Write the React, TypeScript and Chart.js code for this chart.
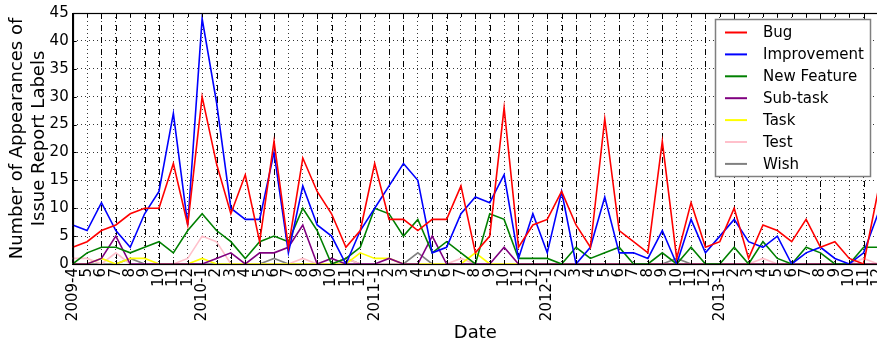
import { useEffect, useRef } from "react";
import { Chart, registerables } from "chart.js";

Chart.register(...registerables);

const tickLabels = [
  "2009-4", "5", "6", "7", "8", "9", "10", "11", "12",
  "2010-1", "2", "3", "4", "5", "6", "7", "8", "9", "10", "11", "12",
  "2011-1", "2", "3", "4", "5", "6", "7", "8", "9", "10", "11", "12",
  "2012-1", "2", "3", "4", "5", "6", "7", "8", "9", "10", "11", "12",
  "2013-1", "2", "3", "4", "5", "6", "7", "8", "9", "10", "11", "12",
];

const bug = [3, 4, 6, 7, 9, 10, 10, 18, 7, 30, 18, 9, 16, 4, 22, 3, 19, 13, 9, 3, 6, 18, 8, 8, 6, 8, 8, 14, 2, 5, 28, 3, 7, 8, 13, 7, 3, 26, 6, 4, 2, 22, 1, 11, 3, 4, 10, 1, 7, 6, 4, 8, 3, 4, 1, 0, 13];
const improvement = [7, 6, 11, 6, 3, 9, 13, 27, 7, 44, 29, 10, 8, 8, 20, 2, 14, 7, 5, 0, 6, 10, 14, 18, 15, 2, 3, 9, 12, 11, 16, 1, 9, 2, 13, 0, 3, 12, 2, 2, 1, 6, 0, 8, 2, 5, 8, 4, 3, 5, 0, 2, 3, 1, 0, 2, 9];
const newFeature = [0, 2, 3, 3, 2, 3, 4, 2, 6, 9, 6, 4, 1, 4, 5, 4, 10, 6, 0, 1, 3, 10, 9, 5, 8, 2, 4, 2, 0, 9, 8, 1, 1, 1, 0, 3, 1, 2, 3, 0, 0, 2, 0, 3, 0, 0, 3, 0, 4, 1, 0, 3, 2, 0, 0, 3, 3];
const subTask = [0, 0, 1, 5, 0, 0, 0, 0, 0, 0, 1, 2, 0, 2, 2, 3, 7, 0, 1, 0, 0, 0, 1, 0, 0, 5, 0, 0, 0, 0, 3, 0, 0, 0, 0, 0, 0, 0, 0, 0, 0, 0, 0, 0, 0, 0, 0, 0, 0, 0, 0, 0, 0, 0, 0, 0, 0];
const task = [0, 0, 1, 0, 1, 1, 0, 0, 0, 1, 0, 0, 0, 0, 0, 0, 0, 0, 0, 0, 2, 1, 1, 0, 0, 0, 0, 0, 2, 0, 0, 0, 0, 0, 0, 0, 0, 0, 0, 0, 0, 0, 0, 0, 0, 0, 0, 0, 0, 0, 0, 0, 0, 0, 0, 0, 0];
const test = [1, 1, 0, 2, 0, 0, 0, 0, 1, 5, 4, 0, 0, 0, 0, 0, 1, 0, 0, 1, 0, 0, 0, 0, 0, 0, 0, 1, 0, 0, 0, 0, 0, 0, 0, 0, 0, 0, 0, 0, 0, 0, 0, 0, 0, 0, 0, 0, 1, 0, 0, 0, 0, 0, 0, 1, 0];
const wish = [0, 0, 0, 0, 1, 0, 0, 0, 0, 0, 0, 0, 0, 0, 1, 0, 0, 0, 0, 1, 0, 0, 0, 0, 2, 0, 0, 0, 0, 0, 0, 0, 0, 0, 0, 0, 0, 0, 0, 0, 0, 0, 1, 0, 0, 0, 0, 0, 0, 0, 0, 0, 0, 0, 0, 0, 0];

// month indices with dashed vertical marker lines
const dashedMonths = [2, 3, 5, 6, 10, 11, 13, 14, 17, 18, 20, 22, 23, 25, 26, 28, 29, 31, 33, 34, 35, 38, 41, 44, 46, 52, 55];

const seriesNames = ["Bug", "Improvement", "New Feature", "Sub-task", "Task", "Test", "Wish"];
const seriesValues = [bug, improvement, newFeature, subTask, task, test, wish];
const seriesColors = ["#ff0000", "#0000ff", "#008000", "#800080", "#ffff00", "#ffc0cb", "#808080"];

const CANVAS_W = 900;
const CANVAS_H = 347;
const FONT = "'DejaVu Sans', sans-serif";

export default function App() {
  const ref = useRef<HTMLCanvasElement | null>(null);

  useEffect(() => {
    const canvas = ref.current;
    if (!canvas) return;

    const framePlugin = {
      id: "framePlugin",
      beforeDatasetsDraw(chart: any) {
        const { ctx, chartArea } = chart;
        const xs = chart.scales.x;
        ctx.save();
        ctx.strokeStyle = "#000";
        ctx.lineWidth = 1;
        ctx.setLineDash([6, 6]);
        dashedMonths.forEach((m) => {
          const x = Math.round(xs.getPixelForValue(m)) + 0.5;
          ctx.beginPath();
          ctx.moveTo(x, chartArea.top);
          ctx.lineTo(x, chartArea.bottom);
          ctx.stroke();
        });
        ctx.restore();
      },
      afterDatasetsDraw(chart: any) {
        const { ctx, chartArea } = chart;
        const xs = chart.scales.x;
        const ys = chart.scales.y;
        ctx.save();
        ctx.strokeStyle = "#000";
        ctx.lineWidth = 1;
        ctx.setLineDash([]);
        ctx.beginPath();
        for (let i = 0; i < tickLabels.length; i++) {
          const x = Math.round(xs.getPixelForValue(i)) + 0.5;
          ctx.moveTo(x, chartArea.bottom);
          ctx.lineTo(x, chartArea.bottom - 4);
          ctx.moveTo(x, chartArea.top);
          ctx.lineTo(x, chartArea.top + 4);
        }
        for (let v = 0; v <= 45; v += 5) {
          const y = Math.round(ys.getPixelForValue(v)) + 0.5;
          ctx.moveTo(chartArea.left, y);
          ctx.lineTo(chartArea.left + 4, y);
        }
        ctx.stroke();
        ctx.lineWidth = 1.2;
        ctx.strokeRect(
          Math.round(chartArea.left) + 0.5,
          Math.round(chartArea.top) + 0.5,
          Math.round(chartArea.right - chartArea.left),
          Math.round(chartArea.bottom - chartArea.top)
        );
        // legend
        const lx = 715.5, ly = 19.5, lw = 155, lh = 157;
        ctx.fillStyle = "#fff";
        ctx.fillRect(lx, ly, lw, lh);
        ctx.strokeStyle = "#7f7f7f";
        ctx.lineWidth = 1.5;
        ctx.strokeRect(lx, ly, lw, lh);
        ctx.font = `15px ${FONT}`;
        ctx.textBaseline = "middle";
        ctx.textAlign = "left";
        seriesNames.forEach((name, i) => {
          const y = 32.5 + i * 21.9;
          ctx.strokeStyle = seriesColors[i];
          ctx.lineWidth = 2;
          ctx.beginPath();
          ctx.moveTo(725, y);
          ctx.lineTo(747, y);
          ctx.stroke();
          ctx.fillStyle = "#000";
          ctx.fillText(name, 763, y + 1);
        });
        ctx.restore();
      },
    };

    const chart = new Chart(canvas, {
      type: "line",
      data: {
        labels: tickLabels,
        datasets: seriesNames.map((name, i) => ({
          label: name,
          data: seriesValues[i],
          borderColor: seriesColors[i],
          backgroundColor: seriesColors[i],
          borderWidth: 1.6,
          pointRadius: 0,
          tension: 0,
          fill: false,
        })),
      },
      options: {
        animation: false,
        responsive: false,
        maintainAspectRatio: false,
        devicePixelRatio: 1,
        layout: { padding: { left: 0, top: 12, right: CANVAS_W - 881.3, bottom: 0 } },
        plugins: {
          legend: { display: false },
          tooltip: { enabled: false },
        },
        scales: {
          x: {
            type: "category",
            offset: false,
            grid: { color: "#000", lineWidth: 0.8, drawTicks: false },
            border: { display: true, color: "#000", width: 1, dash: [1, 3] },
            ticks: {
              autoSkip: false,
              maxRotation: 90,
              minRotation: 90,
              padding: 4,
              color: "#000",
              font: { family: FONT, size: 15 },
            },
            title: {
              display: true,
              text: "Date",
              color: "#000",
              font: { family: FONT, size: 18 },
              padding: { top: 0, bottom: 3 },
            },
            afterFit: (s: any) => {
              s.height = CANVAS_H - 264;
            },
          },
          y: {
            min: 0,
            max: 45,
            grid: { color: "#000", lineWidth: 0.8, drawTicks: false },
            border: { display: true, color: "#000", width: 1, dash: [1, 3] },
            ticks: {
              stepSize: 5,
              padding: 4,
              color: "#000",
              font: { family: FONT, size: 15 },
            },
            title: {
              display: true,
              text: ["Number of Appearances of", "Issue Report Labels"],
              color: "#000",
              font: { family: FONT, size: 18, lineHeight: 1.2 },
              padding: { top: 7, bottom: 0 },
            },
            afterFit: (s: any) => {
              s.width = 72.7;
            },
          },
        },
      },
      plugins: [framePlugin],
    });

    return () => chart.destroy();
  }, []);

  return (
    <div
      style={{
        position: "fixed",
        left: 0,
        top: 0,
        width: 877,
        height: 347,
        overflow: "hidden",
        background: "#fff",
      }}
    >
      <canvas ref={ref} width={CANVAS_W} height={CANVAS_H} style={{ display: "block", width: CANVAS_W, height: CANVAS_H }} />
    </div>
  );
}
